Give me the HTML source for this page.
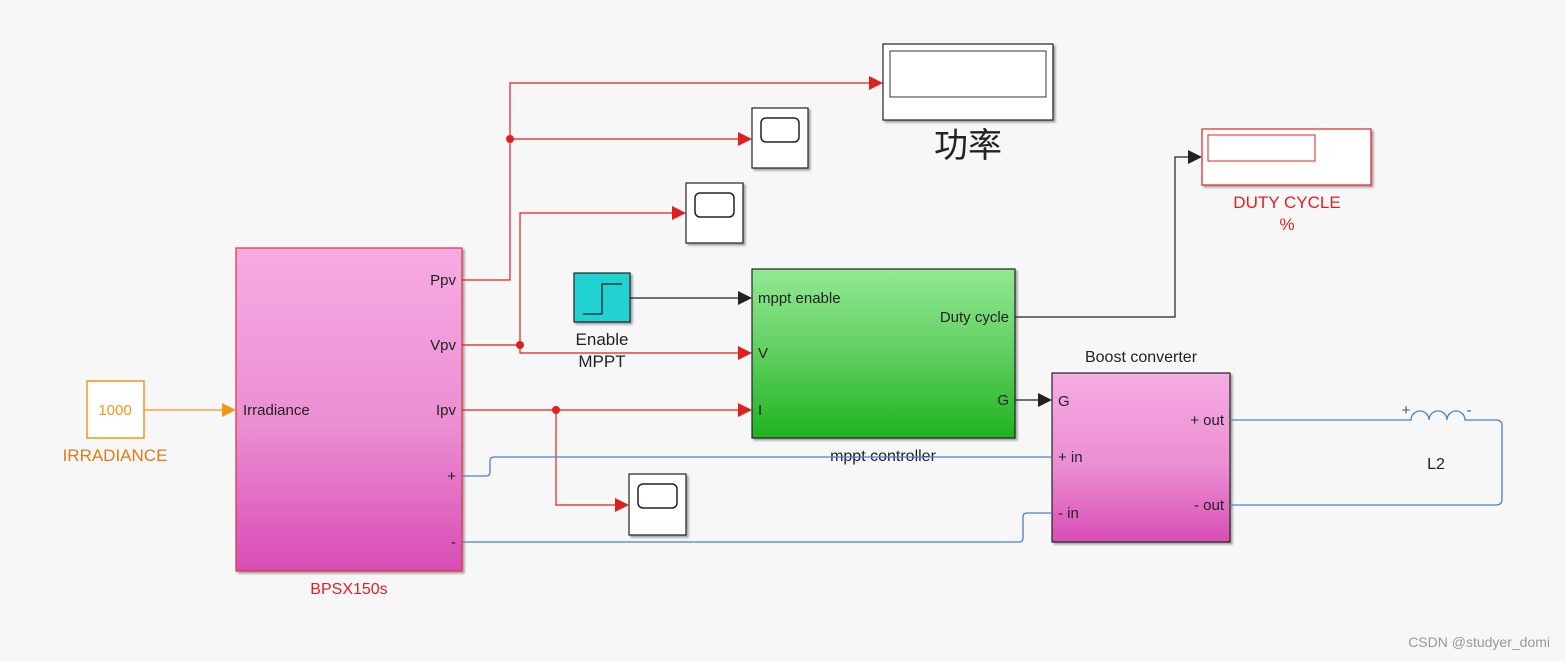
<!DOCTYPE html>
<html><head><style>body{margin:0;background:#f7f7f7}svg{display:block}text{font-family:"Liberation Sans","Noto Sans CJK SC",sans-serif}</style></head><body>
<svg width="1566" height="661" viewBox="0 0 1566 661" xmlns="http://www.w3.org/2000/svg">
<defs>
<linearGradient id="pk" x1="0" y1="0" x2="0" y2="1"><stop offset="0" stop-color="#f7abe3"/><stop offset="0.55" stop-color="#eb8ed2"/><stop offset="1" stop-color="#d84db5"/></linearGradient>
<linearGradient id="gr" x1="0" y1="0" x2="0" y2="1"><stop offset="0" stop-color="#93e893"/><stop offset="0.5" stop-color="#5fcf5f"/><stop offset="1" stop-color="#1fb31f"/></linearGradient>
<filter id="sh"><feDropShadow dx="2" dy="2" stdDeviation="1" flood-color="#000" flood-opacity="0.35"/></filter>
</defs>
<rect width="1566" height="661" fill="#f7f7f7"/>
<!-- orange -->
<rect x="87" y="381" width="57" height="57" fill="#fff" stroke="#f7941d" stroke-width="1.5"/>
<text x="115" y="415" font-size="15" fill="#f7941d" text-anchor="middle">1000</text>
<text x="115" y="461" font-size="17" fill="#e07a1a" text-anchor="middle">IRRADIANCE</text>
<line x1="144" y1="410" x2="224" y2="410" stroke="#f7941d" stroke-width="1.2"/>
<polygon points="222,403 236,410 222,417" fill="#f7941d"/>
<!-- PV block -->
<rect x="236" y="248" width="226" height="323" fill="url(#pk)" stroke="#e0303a" stroke-width="1.2" filter="url(#sh)"/>
<g font-size="15" fill="#222">
<text x="243" y="415">Irradiance</text>
<text x="456" y="285" text-anchor="end">Ppv</text>
<text x="456" y="350" text-anchor="end">Vpv</text>
<text x="456" y="415" text-anchor="end">Ipv</text>
<text x="456" y="481" text-anchor="end">+</text>
<text x="456" y="547" text-anchor="end">-</text>
</g>
<text x="349" y="594" font-size="16" fill="#e0202a" text-anchor="middle">BPSX150s</text>
<!-- red lines -->
<g stroke="#e02020" stroke-width="1.2" fill="none">
<polyline points="462,280 510,280 510,83 871,83"/>
<polyline points="510,139 740,139"/>
<polyline points="462,345 520,345"/>
<polyline points="520,345 520,213 674,213"/>
<polyline points="520,345 520,353 740,353"/>
<polyline points="462,410 740,410"/>
<polyline points="556,410 556,505 617,505"/>
</g>
<g fill="#e02020">
<circle cx="510" cy="139" r="4"/><circle cx="520" cy="345" r="4"/><circle cx="556" cy="410" r="4"/>
<polygon points="869,76 883,83 869,90"/>
<polygon points="738,132 752,139 738,146"/>
<polygon points="672,206 686,213 672,220"/>
<polygon points="738,346 752,353 738,360"/>
<polygon points="738,403 752,410 738,417"/>
<polygon points="615,498 629,505 615,512"/>
</g>
<!-- display 1 -->
<rect x="883" y="44" width="170" height="76" fill="#fff" stroke="#222" stroke-width="1.2" filter="url(#sh)"/>
<rect x="890" y="51" width="156" height="46" fill="#fff" stroke="#333" stroke-width="1"/>
<text x="968" y="157" font-size="34" fill="#222" text-anchor="middle" font-family="'Noto Serif CJK SC',serif">功率</text>
<!-- scopes -->
<g>
<rect x="752" y="108" width="56" height="60" fill="#fff" stroke="#222" stroke-width="1.2" filter="url(#sh)"/>
<rect x="761" y="118" width="38" height="24" rx="5" fill="#fff" stroke="#222" stroke-width="1.5"/>
<rect x="686" y="183" width="57" height="60" fill="#fff" stroke="#222" stroke-width="1.2" filter="url(#sh)"/>
<rect x="695" y="193" width="39" height="24" rx="5" fill="#fff" stroke="#222" stroke-width="1.5"/>
<rect x="629" y="474" width="57" height="61" fill="#fff" stroke="#222" stroke-width="1.2" filter="url(#sh)"/>
<rect x="638" y="484" width="39" height="24" rx="5" fill="#fff" stroke="#222" stroke-width="1.5"/>
</g>
<!-- step -->
<rect x="574" y="273" width="56" height="49" fill="#22d1d1" stroke="#222" stroke-width="1.2" filter="url(#sh)"/>
<polyline points="583,314 602,314 602,284 622,284" fill="none" stroke="#222" stroke-width="1.3"/>
<text x="602" y="345" font-size="17" fill="#222" text-anchor="middle">Enable</text>
<text x="602" y="367" font-size="17" fill="#222" text-anchor="middle">MPPT</text>
<line x1="630" y1="298" x2="740" y2="298" stroke="#222" stroke-width="1.2"/>
<polygon points="738,291 752,298 738,305" fill="#222"/>
<!-- mppt -->
<rect x="752" y="269" width="263" height="169" fill="url(#gr)" stroke="#222" stroke-width="1.2" filter="url(#sh)"/>
<g font-size="15" fill="#222">
<text x="758" y="303">mppt enable</text>
<text x="758" y="358">V</text>
<text x="758" y="415">I</text>
<text x="1009" y="322" text-anchor="end">Duty cycle</text>
<text x="1009" y="405" text-anchor="end">G</text>
</g>
<text x="883" y="461" font-size="16" fill="#222" text-anchor="middle">mppt controller</text>
<polyline points="1015,317 1175,317 1175,157 1190,157" fill="none" stroke="#222" stroke-width="1.2"/>
<polygon points="1188,150 1202,157 1188,164" fill="#222"/>
<line x1="1015" y1="400" x2="1040" y2="400" stroke="#222" stroke-width="1.2"/>
<polygon points="1038,393 1052,400 1038,407" fill="#222"/>
<!-- display 2 -->
<rect x="1202" y="129" width="169" height="56" fill="#fff" stroke="#e02020" stroke-width="1.2" filter="url(#sh)"/>
<rect x="1208" y="135" width="107" height="26" fill="#fff" stroke="#e02020" stroke-width="1"/>
<text x="1287" y="208" font-size="17" fill="#e02020" text-anchor="middle">DUTY CYCLE</text>
<text x="1287" y="230" font-size="17" fill="#e02020" text-anchor="middle">%</text>
<!-- boost -->
<text x="1141" y="362" font-size="16" fill="#222" text-anchor="middle">Boost converter</text>
<rect x="1052" y="373" width="178" height="169" fill="url(#pk)" stroke="#222" stroke-width="1.2" filter="url(#sh)"/>
<g font-size="15" fill="#222">
<text x="1058" y="406">G</text>
<text x="1058" y="462">+ in</text>
<text x="1058" y="518">- in</text>
<text x="1224" y="425" text-anchor="end">+ out</text>
<text x="1224" y="510" text-anchor="end">- out</text>
</g>
<!-- blue -->
<g stroke="#4a7fd8" stroke-width="1.3" fill="none">
<path d="M462,476 H486 Q490,476 490,472 V461 Q490,457 494,457 H1052"/>
<path d="M462,542 H1019 Q1023,542 1023,538 V517 Q1023,513 1027,513 H1052"/>
<path d="M1230,420 H1411 A9,9 0 0 1 1429,420 A9,9 0 0 1 1447,420 A9,9 0 0 1 1465,420 H1496 Q1502,420 1502,426 V499 Q1502,505 1496,505 H1230"/>
</g>
<text x="1406" y="415" font-size="15" fill="#3a5a4a" text-anchor="middle">+</text>
<text x="1469" y="415" font-size="15" fill="#3a5a4a" text-anchor="middle">-</text>
<text x="1436" y="469" font-size="16" fill="#222" text-anchor="middle">L2</text>
<text x="1550" y="647" font-size="14" fill="#999" text-anchor="end">CSDN @studyer_domi</text>
</svg>
</body></html>
